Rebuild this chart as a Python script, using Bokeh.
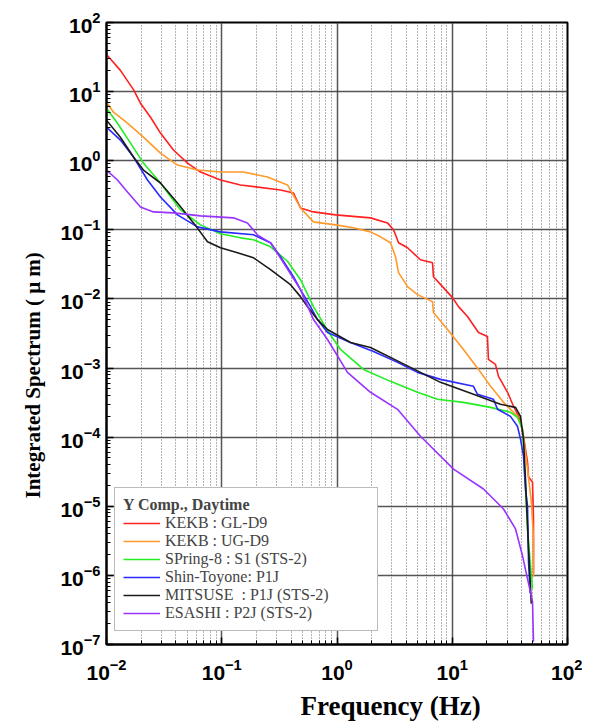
from bokeh.plotting import figure
from bokeh.models import Legend, LegendItem, LogTickFormatter, Range1d, FixedTicker, Title
from bokeh.embed import file_html
from bokeh.resources import INLINE

# ---- data ----
red_f = [0.01, 0.0132, 0.0172, 0.0197, 0.0241, 0.0294, 0.0381, 0.0505, 0.0654, 0.0975, 0.1455,
         0.3235, 0.419, 0.482, 0.625, 0.97, 1.953, 2.742, 3.09, 3.22, 3.42, 4.09, 5.30, 6.74, 6.87,
         8.23, 10.05, 11.33, 13.56, 16.9, 20.2, 20.6, 23.7, 25.2, 30.2, 34.0, 37.6, 39.1, 41.5,
         45.0, 45.9, 49.7, 50.7, 50.7]
red_v = [34.5, 20.3, 10.6, 6.8, 4.26, 2.51, 1.43, 0.925, 0.686, 0.526, 0.446,
         0.3775, 0.3415, 0.2075, 0.1817, 0.1645, 0.149, 0.126, 0.1, 0.085, 0.0649, 0.055, 0.0369,
         0.0334, 0.021, 0.01507, 0.01045, 0.00775, 0.00556, 0.00327, 0.00286, 0.001334, 0.00113,
         0.000758, 0.000446, 0.00028, 0.0002, 0.000164, 0.000103, 0.0000436, 0.0000265,
         0.0000224, 0.00000656, 0.00000106]

orange_f = [0.01, 0.0115, 0.0152, 0.0209, 0.0294, 0.0413, 0.0616, 0.0975, 0.1545, 0.2494, 0.372,
            0.482, 0.625, 0.97, 1.39, 1.953, 2.385, 2.91, 3.22, 3.42, 4.09, 4.995, 6.74, 6.87,
            9.10, 12.52, 16.9, 21.5, 27.86, 36.8, 40.7, 45.0, 48.6, 50.7, 50.7]
orange_v = [7.02, 5.03, 3.49, 2.19, 1.29, 0.866, 0.733, 0.686, 0.686, 0.581, 0.446,
            0.2075, 0.1303, 0.118, 0.1069, 0.0935, 0.0792, 0.0649, 0.0408, 0.024, 0.01507,
            0.01154, 0.00914, 0.00635, 0.00361, 0.001858, 0.000956, 0.000544, 0.000319, 0.0002,
            0.00013, 0.0000345, 0.0000115, 0.00000338, 0.00000095]

green_f = [0.01, 0.01245, 0.01616, 0.0209, 0.0294, 0.0439, 0.0654, 0.0975, 0.1455, 0.1886, 0.265,
           0.372, 0.482, 0.625, 0.827, 1.072, 1.70, 2.91, 4.995, 7.45, 12.52, 21.5, 32.0, 36.8,
           40.7, 43.2, 45.0, 48.0, 49.7]
green_v = [5.75, 3.49, 1.80, 0.925, 0.476, 0.194, 0.118, 0.0876, 0.0766, 0.0718, 0.0568,
           0.0351, 0.019, 0.00775, 0.0035, 0.001858, 0.000956, 0.000642, 0.000446, 0.000353,
           0.000319, 0.00027, 0.000229, 0.000194, 0.00013, 0.0000178, 0.0000047, 0.00000125,
           0.00000064]

blue_f = [0.01, 0.0132, 0.01715, 0.02268, 0.0294, 0.0413, 0.0616, 0.0975, 0.1886, 0.265, 0.3235,
          0.419, 0.482, 0.589, 0.677, 0.827, 1.309, 2.073, 3.35, 4.995, 7.91, 15.28, 16.55, 22.8,
          24.7, 32.0, 36.8, 39.1, 41.5, 43.2, 45.0, 45.9, 47.5]
blue_v = [3.06, 1.99, 1.13, 0.526, 0.299, 0.1645, 0.1104, 0.0935, 0.0847, 0.0649, 0.0408,
          0.021, 0.01362, 0.00775, 0.00503, 0.00327, 0.002344, 0.001738, 0.001208, 0.000866,
          0.000686, 0.000544, 0.000417, 0.000353, 0.000253, 0.0002, 0.000144, 0.0000935,
          0.0000532, 0.0000178, 0.0000101, 0.00000157, 0.00000055]

black_f = [0.01, 0.0132, 0.01715, 0.0209, 0.0294, 0.0413, 0.0569, 0.0752, 0.0975, 0.137, 0.1886,
           0.265, 0.395, 0.482, 0.554, 0.677, 0.827, 1.309, 1.953, 4.34, 7.91, 15.28, 26.2,
           35.4, 39.1, 41.5, 43.2, 45.9, 48.5]
black_v = [3.86, 2.19, 1.13, 0.733, 0.476, 0.245, 0.126, 0.0671, 0.055, 0.0466, 0.0394,
           0.0265, 0.0161, 0.0108, 0.00775, 0.00503, 0.00361, 0.002344, 0.001986, 0.001022,
           0.000621, 0.000417, 0.000299, 0.00027, 0.0002, 0.0000935, 0.0000248, 0.00000242,
           0.00000039]

purple_f = [0.01, 0.01245, 0.0152, 0.0197, 0.02557, 0.0381, 0.0654, 0.1264, 0.167, 0.204, 0.265,
            0.3435, 0.482, 0.625, 0.827, 1.233, 1.953, 3.35, 5.30, 10.26, 18.67, 27.86, 35.4,
            40.7, 45.0, 49.7, 50.7]
purple_v = [0.733, 0.526, 0.353, 0.2147, 0.1817, 0.1758, 0.159, 0.149, 0.126, 0.0847, 0.0649,
            0.0334, 0.01362, 0.00503, 0.00259, 0.000866, 0.000446, 0.000253, 0.0001033,
            0.0000345, 0.0000178, 0.00000914, 0.0000047, 0.00000192, 0.00000089, 0.000000417,
            0.00000011]

series_labels = ["KEKB : GL-D9", "KEKB : UG-D9", "SPring-8 : S1 (STS-2)", "Shin-Toyone: P1J",
                 "MITSUSE  : P1J (STS-2)", "ESASHI : P2J (STS-2)"]
series_colors = ["#ff2020", "#ff9a2a", "#22ee22", "#2a2aff", "#1a1a1a", "#9933ff"]

x_ticks = [0.01, 0.1, 1, 10, 100]
y_ticks = [1e-7, 1e-6, 1e-5, 1e-4, 1e-3, 1e-2, 1e-1, 1, 10, 100]

legend_title = "Y Comp., Daytime"
x_title = "Frequency (Hz)"
y_title = "Integrated  Spectrum ( \u03bc m)"

# ---- figure ----
p = figure(width=582, height=726, x_axis_type="log", y_axis_type="log",
           x_range=Range1d(1e-2, 1e2), y_range=Range1d(1e-7, 1e2),
           output_backend="svg", toolbar_location=None,
           min_border_left=106, min_border_right=15, min_border_top=22, min_border_bottom=80)
p.background_fill_color = "white"
p.border_fill_color = "white"
p.outline_line_color = "black"
p.outline_line_width = 2
p.outline_line_alpha = 1

x_minor = [k * t for t in x_ticks[:-1] for k in range(2, 10)]
y_minor = [k * t for t in y_ticks[:-1] for k in range(2, 10)]
p.xaxis.ticker = FixedTicker(ticks=x_ticks, minor_ticks=x_minor)
p.yaxis.ticker = FixedTicker(ticks=y_ticks, minor_ticks=y_minor)
p.xaxis.formatter = LogTickFormatter()
p.yaxis.formatter = LogTickFormatter()

for ax in (p.xaxis[0], p.yaxis[0]):
    ax.axis_line_width = 2
    ax.axis_line_color = "black"
    ax.major_tick_in = 7
    ax.major_tick_out = 0
    ax.minor_tick_in = 4
    ax.minor_tick_out = 0
    ax.major_tick_line_width = 1.5
    ax.minor_tick_line_width = 1
    ax.major_label_text_font = "Liberation Sans"
    ax.major_label_text_font_style = "bold"
    ax.major_label_text_font_size = "21px"
    ax.major_label_text_color = "black"

p.xaxis.major_label_standoff = 14
p.yaxis.major_label_standoff = 6

# axis titles, placed off-centre as in the reference
xt = Title(text=x_title, align="left", offset=194, standoff=12,
           text_font="Liberation Serif", text_font_style="bold", text_font_size="27px",
           text_color="black")
p.add_layout(xt, "below")
yt = Title(text=y_title, align="left", offset=146, standoff=26,
           text_font="Liberation Serif", text_font_style="bold", text_font_size="21px",
           text_color="black")
p.add_layout(yt, "left")

p.xgrid.grid_line_color = "#444444"
p.xgrid.grid_line_width = 1.5
p.xgrid.grid_line_alpha = 0.9
p.xgrid.minor_grid_line_color = "#666666"
p.xgrid.minor_grid_line_dash = "1 2"
p.xgrid.minor_grid_line_width = 1
p.ygrid.grid_line_color = "#444444"
p.ygrid.grid_line_width = 1.5
p.ygrid.grid_line_alpha = 0.9

series = [(red_f, red_v), (orange_f, orange_v), (green_f, green_v),
          (blue_f, blue_v), (black_f, black_v), (purple_f, purple_v)]
items = []
for (fx, vy), lab, col in zip(series, series_labels, series_colors):
    r = p.line(fx, vy, line_color=col, line_width=1.6)
    items.append(LegendItem(label=lab, renderers=[r]))

legend = Legend(items=items, location=(8, 13), title=legend_title,
                title_text_font="Liberation Serif", title_text_font_style="bold",
                title_text_font_size="16px", title_standoff=0,
                label_text_font="Liberation Serif", label_text_font_size="16px",
                label_height=18, glyph_height=18, glyph_width=37, label_standoff=5,
                label_width=204, spacing=0, padding=8, margin=0,
                border_line_color="#777777", border_line_width=1.5,
                background_fill_color="white", background_fill_alpha=1)
p.add_layout(legend)

open("out.html", "w").write(file_html(p, INLINE))
